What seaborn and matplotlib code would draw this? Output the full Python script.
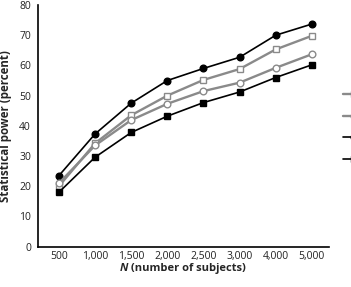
import matplotlib
matplotlib.use("Agg")
import matplotlib.pyplot as plt
import pandas as pd
import seaborn as sns

n_labels = ["500", "1,000", "1,500", "2,000", "2,500", "3,000", "4,000", "5,000"]
filled_circles = [23.5, 37.3, 47.5, 55.0, 59.0, 62.7, 70.0, 73.7]
open_squares = [20.0, 34.2, 43.5, 50.0, 55.2, 58.8, 65.3, 69.8]
open_circles = [21.0, 33.5, 41.9, 47.3, 51.5, 54.3, 59.2, 63.7]
filled_squares = [18.0, 29.6, 37.8, 43.2, 47.7, 51.2, 56.0, 60.2]

sns.set_style("white")
plt.rcParams["font.family"] = ["Open Sans", "DejaVu Sans"]

fig = plt.figure(figsize=(3.51, 2.87), dpi=100)
ax = fig.add_axes([0.108, 0.1404, 0.829, 0.8422])

series = [
    (filled_circles, "black", "o", "black", 1.2),
    (open_squares, "#8a8a8a", "s", "white", 1.7),
    (open_circles, "#8a8a8a", "o", "white", 1.7),
    (filled_squares, "black", "s", "black", 1.2),
]
for vals, col, mk, fc, lw in series:
    df = pd.DataFrame({"N": n_labels, "power": vals})
    sns.lineplot(data=df, x="N", y="power", ax=ax, sort=False, color=col,
                 linewidth=lw, marker=mk, markersize=4.8, markerfacecolor=fc,
                 markeredgecolor=col, markeredgewidth=1.0)

ax.set_xlim(-0.58, 7.47)
ax.set_ylim(0, 80)
ax.set_yticks(range(0, 81, 10))
ax.tick_params(axis="both", length=0, labelsize=7.5, colors="#222222")
ax.tick_params(axis="y", pad=5)
ax.tick_params(axis="x", pad=3)
for s in ["top", "right"]:
    ax.spines[s].set_visible(False)
for s in ["left", "bottom"]:
    ax.spines[s].set_color("black")
    ax.spines[s].set_linewidth(1.2)

ax.set_ylabel("Statistical power (percent)", fontsize=8.3, fontweight="bold", labelpad=5)
ax.set_xlabel("")
fig.text(0.366, 0.066, "N", fontsize=8, fontweight="bold", style="italic", ha="right", va="center")
fig.text(0.366, 0.066, " (number of subjects)", fontsize=8, fontweight="bold", ha="left", va="center")

# legend keys run off the right edge, only their start is visible
lines = ax.get_lines()
order = [1, 2, 0, 3]
ax.legend([lines[i] for i in order], [" "] * 4,
          loc="upper left", bbox_to_anchor=(0.977, 0.688), bbox_transform=fig.transFigure,
          frameon=False, fontsize=7.5, borderpad=0, borderaxespad=0,
          labelspacing=1.03, handlelength=2.2)

plt.savefig("out.png", dpi=100)
